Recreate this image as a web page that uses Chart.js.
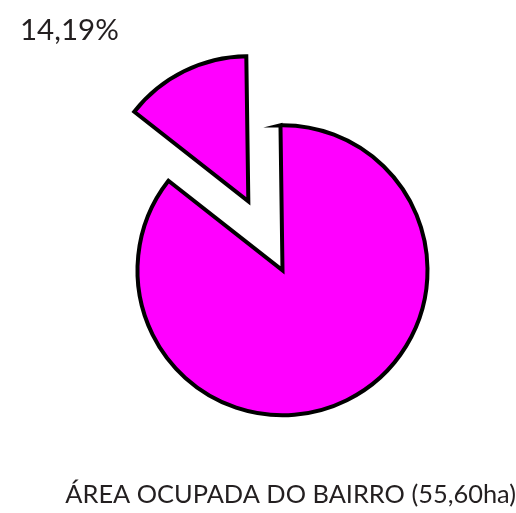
<!DOCTYPE html>
<html>
<head>
<meta charset="utf-8">
<script src="https://cdn.jsdelivr.net/npm/chart.js@4"></script>
<style>
  html, body { margin: 0; padding: 0; background: #ffffff; }
  #wrap { width: 516px; height: 513px; position: relative; }
</style>
</head>
<body>
<div id="wrap"><canvas id="areaChart"></canvas></div>
<script>
'use strict';

// data
let labels = ['Área livre', 'Área ocupada'];
let values = [85.81, 14.19];
let explode = [0, 77];
let sliceColors = ['#ff00ff', '#ff00ff'];
let pctLabels = ['', '14,19%'];
let chartTitle = 'ÁREA OCUPADA DO BAIRRO (55,60ha)';

let textColor = '#231f20';
let fontFamily = "'Lato', 'Open Sans', sans-serif";

// moves a slice out along the middle of its own angle
const explodePlugin = {
    id: 'explodeSlices',
    afterDatasetUpdate(chart, args) {
        let ds = chart.data.datasets[args.index];
        if (!ds.explode) return;
        args.meta.data.forEach((arc, i) => {
            let dist = ds.explode[i] || 0;
            if (!dist) return;
            let mid = (arc.startAngle + arc.endAngle) / 2;
            arc.x += Math.cos(mid) * dist;
            arc.y += Math.sin(mid) * dist;
        });
    }
};

// percentage label, written in the top left corner
const pctLabelPlugin = {
    id: 'pctLabel',
    afterDraw(chart) {
        let c = chart.ctx;
        let text = pctLabels.filter(t => t).join(' ');
        c.save();
        c.fillStyle = textColor;
        c.font = "normal 29.5px " + fontFamily;
        c.textAlign = 'left';
        c.textBaseline = 'alphabetic';
        c.fillText(text, 20, 40);
        c.restore();
    }
};

let ctx = document.getElementById('areaChart').getContext('2d');
let pieChart = new Chart(ctx, {
    type: 'pie',
    data: {
        labels: labels,
        datasets: [{
            data: values,
            explode: explode,
            backgroundColor: sliceColors,
            borderColor: '#000000',
            borderWidth: 4,
            borderJoinStyle: 'miter',
        }]
    },
    options: {
        responsive: true,
        maintainAspectRatio: false,
        animation: false,
        radius: 145,
        rotation: -0.8,
        layout: {
            padding: { left: 49, right: 0, top: 61, bottom: 0 }
        },
        plugins: {
            legend: { display: false },
            tooltip: { enabled: false },
            title: {
                display: true,
                text: chartTitle,
                position: 'bottom',
                align: 'end',
                color: textColor,
                font: { family: fontFamily, size: 25.4, weight: 'normal' },
                padding: { top: 0, bottom: 3 }
            }
        }
    },
    plugins: [explodePlugin, pctLabelPlugin]
});
</script>
</body>
</html>
